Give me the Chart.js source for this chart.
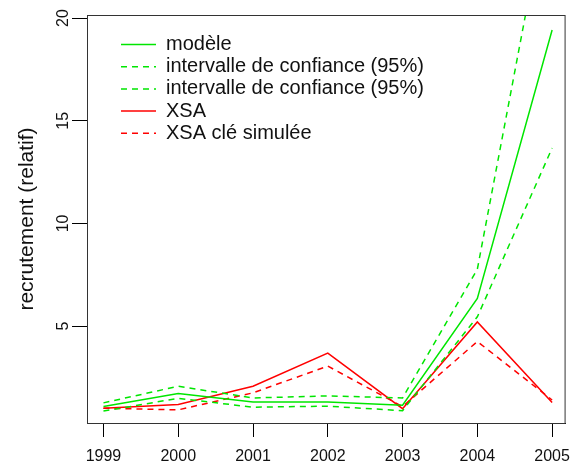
<!DOCTYPE html>
<html>
<head>
<meta charset="utf-8">
<script src="https://cdn.jsdelivr.net/npm/chart.js@4"></script>
<style>
  html, body { margin: 0; padding: 0; background: #fff; }
</style>
</head>
<body>
<canvas id="chart" width="580" height="468"></canvas>
<script>
// data
const years = [1999, 2000, 2001, 2002, 2003, 2004, 2005];
const modele = [1.08, 1.72, 1.3, 1.3, 1.15, 6.35, 19.42];
const icHaut = [1.26, 2.07, 1.5, 1.6, 1.5, 7.77, 27.0];
const icBas = [0.86, 1.48, 1.05, 1.1, 0.88, 5.45, 13.67];
const xsa = [1.0, 1.18, 2.07, 3.68, 0.98, 5.2, 1.28];
const xsaSim = [1.0, 0.92, 1.75, 3.05, 1.08, 4.25, 1.4];
const yTicks = [5, 10, 15, 20];

const GREEN = '#00e600';
const RED = '#ff0000';
const FONT = '"Liberation Sans", Arial, sans-serif';

const pts = arr => arr.map((v, i) => ({ x: years[i], y: v }));

function serie(label, values, color, dashed) {
    return {
        label: label,
        data: pts(values),
        borderColor: color,
        borderWidth: 1.5,
        borderDash: dashed ? [6, 5] : [],
        pointRadius: 0,
        tension: 0,
        fill: false
    };
}

// box around the plot region, like R's box()
const boxPlugin = {
    id: 'box',
    afterDraw(chart) {
        const a = chart.chartArea, ctx = chart.ctx;
        ctx.save();
        ctx.strokeStyle = '#333';
        ctx.lineWidth = 1;
        ctx.strokeRect(a.left + 0.5, a.top + 0.5, a.right - a.left - 1, a.bottom - a.top);
        ctx.restore();
    }
};

// put the legend where R drew it, inside the plot
const legendSpot = {
    id: 'legendSpot',
    afterLayout(chart) {
        if (!chart.legend) return;
        chart.legend.left = 118.8;
        chart.legend.top = 32.3;
    }
};

new Chart(document.getElementById('chart'), {
    type: 'line',
    data: {
        datasets: [
            serie('modèle', modele, GREEN, false),
            serie('intervalle de confiance (95%)', icHaut, GREEN, true),
            serie('intervalle de confiance (95%)', icBas, GREEN, true),
            serie('XSA', xsa, RED, false),
            serie('XSA clé simulée', xsaSim, RED, true)
        ]
    },
    options: {
        responsive: false,
        animation: false,
        devicePixelRatio: 1,
        layout: { padding: { left: 0, top: 15, right: 3, bottom: 0 } },
        scales: {
            x: {
                type: 'linear',
                min: 1998.78, max: 2005.18,
                afterBuildTicks: s => { s.ticks = years.map(v => ({ value: v })); },
                afterFit: s => { s.height = 45; },
                grid: { drawOnChartArea: false, drawTicks: true, tickLength: 14, color: '#000' },
                border: { display: true, color: '#000' },
                ticks: {
                    autoSkip: false, maxRotation: 0, padding: 10,
                    color: '#111', font: { family: FONT, size: 16 },
                    callback: v => String(v)
                }
            },
            y: {
                min: 0.28, max: 20.15,
                afterBuildTicks: s => { s.ticks = yTicks.map(v => ({ value: v })); },
                afterFit: s => { s.width = 87; },
                grid: { drawOnChartArea: false, drawTicks: true, tickLength: 15, color: '#000' },
                border: { display: true, color: '#000' },
                ticks: {
                    autoSkip: false, minRotation: 90, maxRotation: 90,
                    crossAlign: 'center', padding: 0,
                    color: '#111', font: { family: FONT, size: 16 }
                },
                title: {
                    display: true,
                    text: 'recrutement (relatif)',
                    color: '#111',
                    font: { family: FONT, size: 21 },
                    padding: { top: 15, bottom: 0 }
                }
            }
        },
        plugins: {
            legend: {
                position: 'chartArea',
                align: 'start',
                labels: {
                    usePointStyle: true,
                    pointStyle: 'line',
                    pointStyleWidth: 35,
                    padding: 2.2,
                    color: '#111',
                    font: { family: FONT, size: 20 },
                    generateLabels: chart => {
                        const items = Chart.defaults.plugins.legend.labels.generateLabels(chart);
                        return items.map(it => {
                            const ds = chart.data.datasets[it.datasetIndex];
                            it.lineDash = ds.borderDash;
                            it.lineWidth = ds.borderWidth;
                            it.strokeStyle = ds.borderColor;
                            return it;
                        });
                    }
                }
            },
            tooltip: { enabled: false }
        }
    },
    plugins: [boxPlugin, legendSpot]
});
</script>
</body>
</html>
